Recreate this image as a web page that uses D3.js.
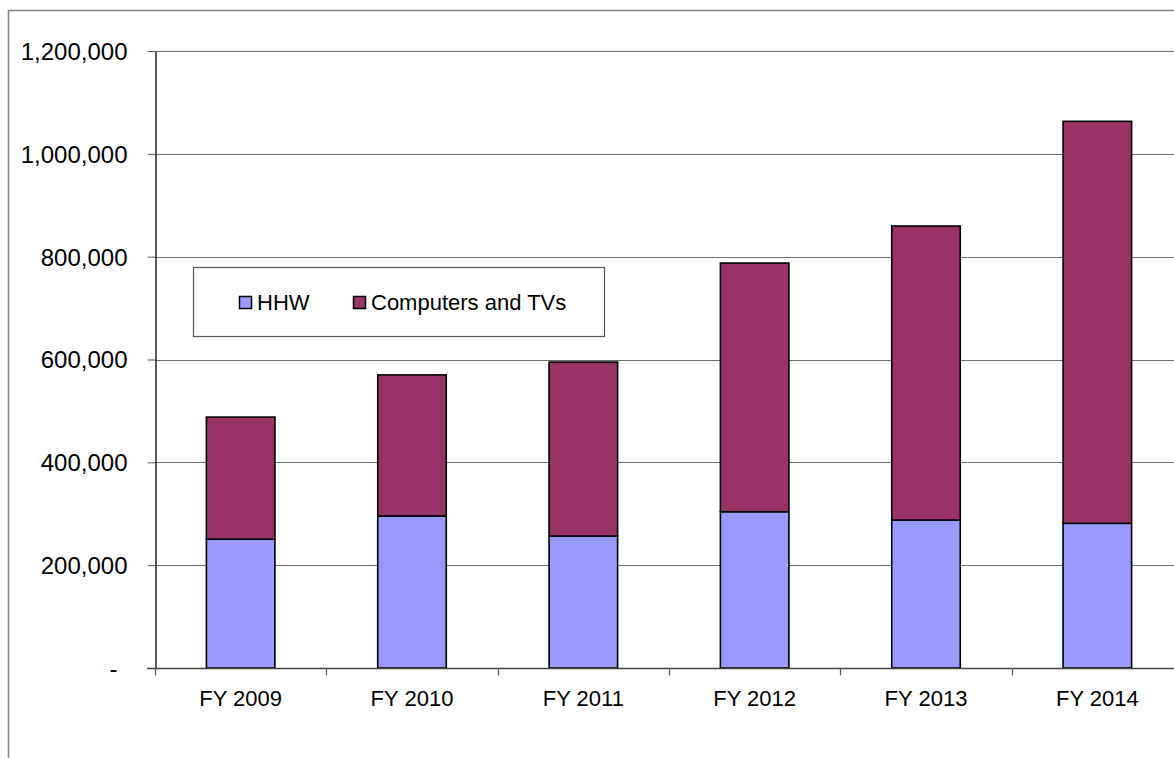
<!DOCTYPE html>
<html>
<head>
<meta charset="utf-8">
<script src="https://cdn.jsdelivr.net/npm/d3@7"></script>
<style>
  html, body { margin: 0; padding: 0; background: #fff; }
  svg { display: block; }
  text { font-family: "Liberation Sans", Arial, sans-serif; fill: #000; }
</style>
</head>
<body>
<svg id="chart" width="1174" height="758"></svg>
<script>
// Fiscal years shown on the category axis
const years = ["FY 2009", "FY 2010", "FY 2011", "FY 2012", "FY 2013", "FY 2014"];
// Stacked series (pounds collected)
const hhw = [250500, 295600, 256700, 304000, 287800, 281400];
const computersTVs = [237500, 274400, 338300, 483600, 571800, 781800];
const seriesNames = ["HHW", "Computers and TVs"];
const seriesColors = ["#9999FF", "#993366"];
// Value axis ticks and their labels
const yTicks = [0, 200000, 400000, 600000, 800000, 1000000, 1200000];
const yTickLabels = ["-", "200,000", "400,000", "600,000", "800,000", "1,000,000", "1,200,000"];

const svg = d3.select("#chart");

// Chart area frame (right and bottom edges fall outside the view)
svg.append("rect")
  .attr("x", 8.5).attr("y", 10.5)
  .attr("width", 1300).attr("height", 900)
  .attr("fill", "#fff").attr("stroke", "#808080").attr("stroke-width", 1.5);

const plot = { left: 155, top: 51, bottom: 668, right: 1183 };

const x = d3.scaleBand()
  .domain(years)
  .range([plot.left, plot.right])
  .paddingInner(0.6)
  .paddingOuter(0.3);

// band boundaries for category ticks
const xBound = d3.scaleBand().domain(years).range([plot.left, plot.right]);

const y = d3.scaleLinear()
  .domain([0, 1200000])
  .range([plot.bottom, plot.top]);

// Horizontal gridlines
svg.append("g")
  .selectAll("line")
  .data(yTicks.filter(d => d > 0))
  .join("line")
  .attr("x1", plot.left).attr("x2", plot.right)
  .attr("y1", d => Math.round(y(d)) + 0.5).attr("y2", d => Math.round(y(d)) + 0.5)
  .attr("stroke", "#6e6e6e").attr("stroke-width", 1);

// Stacked data
const table = years.map((yr, i) => ({ year: yr, HHW: hhw[i], "Computers and TVs": computersTVs[i] }));
const stack = d3.stack().keys(seriesNames)(table);

svg.append("g")
  .selectAll("g")
  .data(stack)
  .join("g")
  .attr("fill", (d, i) => seriesColors[i])
  .selectAll("rect")
  .data(d => d)
  .join("rect")
  .attr("x", d => x(d.data.year))
  .attr("width", x.bandwidth())
  .attr("y", d => y(d[1]))
  .attr("height", d => y(d[0]) - y(d[1]))
  .attr("stroke", "#000")
  .attr("stroke-width", 1.6);

// Value axis
const yAxis = d3.axisLeft(y)
  .tickValues(yTicks)
  .tickFormat((d, i) => yTickLabels[i])
  .tickSize(8)
  .tickSizeOuter(0)
  .tickPadding(20);

const gy = svg.append("g")
  .attr("transform", `translate(${plot.left + 0.5},0)`)
  .call(yAxis);
gy.select(".domain").attr("stroke", "#000").attr("stroke-width", 1.3);
gy.selectAll(".tick line").attr("stroke", "#555");
gy.selectAll(".tick text")
  .style("font-size", "24px")
  .attr("dy", "0.35em")
  .attr("dx", d => d === 0 ? -10 : 0);

// Category axis with ticks between categories
const gx = svg.append("g").attr("transform", `translate(0,${plot.bottom + 0.5})`);
gx.append("line")
  .attr("x1", plot.left - 8).attr("x2", plot.right)
  .attr("stroke", "#444").attr("stroke-width", 1.6);
gx.selectAll("line.tick")
  .data(years.map(d => xBound(d)))
  .join("line")
  .attr("class", "tick")
  .attr("x1", d => Math.round(d) + 0.5).attr("x2", d => Math.round(d) + 0.5)
  .attr("y1", 0).attr("y2", 7)
  .attr("stroke", "#555").attr("stroke-width", 1.2);
gx.selectAll("text")
  .data(years)
  .join("text")
  .attr("x", d => xBound(d) + xBound.bandwidth() / 2)
  .attr("y", 37)
  .attr("text-anchor", "middle")
  .style("font-size", "22px")
  .text(d => d);

// Legend
const legend = svg.append("g");
legend.append("rect")
  .attr("x", 193.5).attr("y", 267.5)
  .attr("width", 411).attr("height", 69)
  .attr("fill", "#fff").attr("stroke", "#555").attr("stroke-width", 1.2);
const legendX = [239, 353];
seriesNames.forEach((name, i) => {
  legend.append("rect")
    .attr("x", legendX[i] + 0.5).attr("y", 296.5)
    .attr("width", 12).attr("height", 12)
    .attr("fill", seriesColors[i]).attr("stroke", "#000").attr("stroke-width", 1.5);
  legend.append("text")
    .attr("x", legendX[i] + 18).attr("y", 310)
    .style("font-size", "22px")
    .text(name);
});
</script>
</body>
</html>
